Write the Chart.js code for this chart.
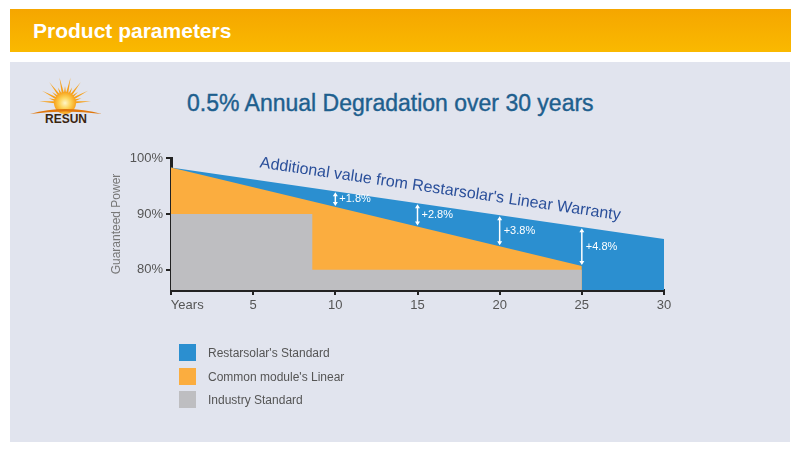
<!DOCTYPE html>
<html>
<head>
<meta charset="utf-8">
<script src="https://cdn.jsdelivr.net/npm/chart.js@4/dist/chart.umd.min.js"></script>
<style>
  body { margin: 0; width: 800px; height: 451px; background: #fff; font-family: Arial, "Liberation Sans", sans-serif; position: relative; overflow: hidden; }
  .header { position: absolute; left: 10px; top: 9px; width: 781px; height: 43px; background: linear-gradient(#f5a600, #fab900); }
  .header span { position: absolute; left: 23px; top: 10px; color: #fff; font-size: 21px; font-weight: bold; }
  .panel { position: absolute; left: 10px; top: 62px; width: 780px; height: 380px; background: #e1e4ee; }
  .title { position: absolute; left: 187px; top: 90px; color: #1e5f8e; font-size: 23px; white-space: nowrap; -webkit-text-stroke: 0.4px #1e5f8e; }
  .legend { position: absolute; left: 179px; top: 344px; font-size: 12px; color: #555; white-space: nowrap; }
  .legend div { height: 23.5px; position: relative; }
  .legend i { position: absolute; left: 0; top: 0; width: 17px; height: 17px; }
  .legend span { position: absolute; left: 29px; top: 2px; }
  #chart { position: absolute; left: 0; top: 0; }
</style>
</head>
<body>
<div class="header"><span>Product parameters</span></div>
<div class="panel"></div>
<svg style="position:absolute;left:28px;top:76px" width="76" height="50" viewBox="0 0 76 50">
  <defs>
    <radialGradient id="sun">
      <stop offset="0" stop-color="#fff6c8"/>
      <stop offset="0.5" stop-color="#fdd45a"/>
      <stop offset="1" stop-color="#f7a21c"/>
    </radialGradient>
  </defs>
  <g id="rays" fill="#f6a01a"></g>
  <circle cx="37" cy="27" r="11" fill="url(#sun)"/>
  <path d="M2 38 Q37 28 74 38 Q37 33 2 38 Z" fill="#e0780e"/>
  <text x="38" y="47" text-anchor="middle" font-family="Arial" font-weight="bold" font-size="12" fill="#3a2510">RESUN</text>
</svg>
<div class="title">0.5% Annual Degradation over 30 years</div>
<canvas id="chart" width="800" height="451"></canvas>
<div class="legend">
  <div><i style="background:#2b8fd0"></i><span>Restarsolar's Standard</span></div>
  <div><i style="background:#fbad3f"></i><span>Common module's Linear</span></div>
  <div><i style="background:#bebec1"></i><span>Industry Standard</span></div>
</div>
<script>
// sun rays for the logo
const rays = document.getElementById('rays');
for (let i = 0; i <= 14; i++) {
  const a = Math.PI * 1.02 + (i / 14) * Math.PI * 0.96;
  const len = i % 2 ? 17 : 26;
  const x1 = 37 + Math.cos(a - 0.13) * 9, y1 = 27 + Math.sin(a - 0.13) * 9;
  const x2 = 37 + Math.cos(a) * len, y2 = 27 + Math.sin(a) * len;
  const x3 = 37 + Math.cos(a + 0.13) * 9, y3 = 27 + Math.sin(a + 0.13) * 9;
  const p = document.createElementNS('http://www.w3.org/2000/svg', 'polygon');
  p.setAttribute('points', `${x1},${y1} ${x2},${y2} ${x3},${y3}`);
  rays.appendChild(p);
}

// Data (guaranteed power, %)
const restarsolarYears = [0, 30];
const restarsolarPower = [98.3, 85.5];
const commonYears = [0, 25];
const commonPower = [98.3, 80.7];
const industryYears = [0, 8.6, 8.6, 25];
const industryPower = [90, 90, 80, 80];
const gapYears = [10, 15, 20, 25];
const gapLabels = ['+1.8%', '+2.8%', '+3.8%', '+4.8%'];
const yTicks = [80, 90, 100];

const toPoints = (xs, ys) => xs.map((x, i) => ({ x, y: ys[i] }));
const lineAt = (xs, ys, x) => ys[0] + (ys[1] - ys[0]) * (x - xs[0]) / (xs[1] - xs[0]);

// Annotations: warranty text and white gap arrows
const annotations = {
  id: 'annotations',
  afterDatasetsDraw(chart) {
    const { ctx, scales: { x, y } } = chart;
    ctx.save();
    ctx.strokeStyle = '#fff';
    ctx.fillStyle = '#fff';
    ctx.lineWidth = 1.5;
    gapYears.forEach((yr, i) => {
      const px = x.getPixelForValue(yr);
      const top = y.getPixelForValue(lineAt(restarsolarYears, restarsolarPower, yr)) + 1;
      const bot = y.getPixelForValue(lineAt(commonYears, commonPower, yr)) - 1;
      ctx.beginPath();
      ctx.moveTo(px, top + 2); ctx.lineTo(px, bot - 2);
      ctx.stroke();
      ctx.beginPath();
      ctx.moveTo(px, top); ctx.lineTo(px - 2.5, top + 4); ctx.lineTo(px + 2.5, top + 4); ctx.closePath();
      ctx.moveTo(px, bot); ctx.lineTo(px - 2.5, bot - 4); ctx.lineTo(px + 2.5, bot - 4); ctx.closePath();
      ctx.fill();
      ctx.font = '11px Arial';
      ctx.textBaseline = 'middle';
      ctx.fillText(gapLabels[i], px + 4, (top + bot) / 2);
    });
    ctx.translate(260, 163);
    ctx.rotate(0.145);
    ctx.fillStyle = '#2a4f9a';
    ctx.font = '16px Arial';
    ctx.textBaseline = 'middle';
    ctx.fillText("Additional value from Restarsolar's Linear Warranty", 0, 0);
    ctx.restore();
  }
};

new Chart(document.getElementById('chart'), {
  type: 'line',
  data: {
    datasets: [{
      label: 'Industry Standard',
      data: toPoints(industryYears, industryPower),
      backgroundColor: '#bebec1',
      borderWidth: 0,
      fill: 'start'
    }, {
      label: "Common module's Linear",
      data: toPoints(commonYears, commonPower),
      backgroundColor: '#fbad3f',
      borderWidth: 0,
      fill: 'start'
    }, {
      label: "Restarsolar's Standard",
      data: toPoints(restarsolarYears, restarsolarPower),
      backgroundColor: '#2b8fd0',
      borderWidth: 0,
      fill: 'start'
    }]
  },
  options: {
    responsive: false,
    animation: false,
    layout: { padding: { left: 100, top: 158, right: 136, bottom: 0 } },
    elements: { point: { radius: 0 }, line: { tension: 0 } },
    plugins: { legend: { display: false }, tooltip: { enabled: false } },
    scales: {
      x: {
        type: 'linear',
        min: 0,
        max: 30,
        afterFit: s => { s.height = 161; },
        ticks: {
          stepSize: 5,
          color: '#555',
          font: { size: 13, family: 'Arial' },
          padding: 3,
          callback: v => v === 0 ? '         Years' : v
        },
        grid: { drawOnChartArea: false, tickLength: 5, color: '#222', lineWidth: 2 },
        border: { color: '#222', width: 3 }
      },
      y: {
        min: 76.4,
        max: 100,
        afterFit: s => { s.width = 71; },
        afterBuildTicks: s => { s.ticks = yTicks.map(v => ({ value: v })); },
        ticks: {
          color: '#555',
          font: { size: 13, family: 'Arial' },
          padding: 3,
          callback: v => v + '%'
        },
        title: { display: true, text: 'Guaranteed Power', color: '#777', font: { size: 12, family: 'Arial' }, padding: { top: 9 } },
        grid: { drawOnChartArea: false, tickLength: 5, color: '#222', lineWidth: 2 },
        border: { color: '#222', width: 3 }
      }
    }
  },
  plugins: [annotations]
});
</script>
</body>
</html>
